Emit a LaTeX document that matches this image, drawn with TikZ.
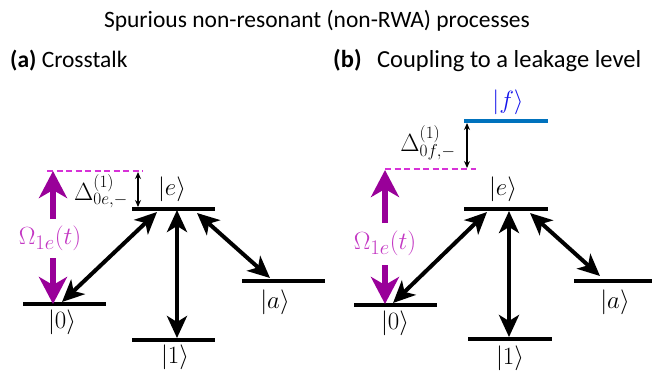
\documentclass[tikz,border=0pt]{standalone}
\usepackage{fontspec}
\setmainfont{Carlito}
\usetikzlibrary{arrows.meta}
\definecolor{drivec}{RGB}{153,0,153}
\definecolor{dashc}{RGB}{215,50,215}
\definecolor{labc}{RGB}{195,55,195}
\definecolor{flev}{RGB}{0,114,189}
\definecolor{flab}{RGB}{20,20,235}
\tikzset{
  lvl/.style={line width=3.7pt},
  trans/.style={line width=4pt, {Stealth[length=22pt,width=20pt,inset=6pt]}-{Stealth[length=22pt,width=20pt,inset=6pt]}},
  drive/.style={line width=5.5pt, color=drivec, -{Stealth[length=27pt,width=28pt,inset=8pt]}},
  detarr/.style={line width=1.2pt, {Stealth[length=7pt,width=6pt]}-{Stealth[length=7pt,width=6pt]}},
  virt/.style={dashc, line width=1.8pt, dash pattern=on 6pt off 3.5pt},
  ket/.style={font=\fontsize{30}{35}\selectfont, inner sep=0pt},
  dlab/.style={font=\fontsize{23}{27}\selectfont, inner sep=0pt},
  omlab/.style={font=\fontsize{30}{35}\selectfont, inner sep=0pt, text=labc},
  ttl/.style={font=\fontsize{23.5}{28}\selectfont, inner sep=0pt},
  sub/.style={font=\fontsize{23.5}{28}\selectfont, inner sep=0pt, anchor=west}
}
\begin{document}
\begin{tikzpicture}[x=1pt,y=-1pt]
\useasboundingbox (0,0) rectangle (652,381);
% titles
\node[ttl] (title) at (317,21) {Spurious non-resonant (non-RWA) processes};
\node[sub] (ta) at (10,61) {\textbf{(a)} Crosstalk};
\node[sub, font=\fontsize{24.5}{29}\selectfont] (tb) at (333,61) {\textbf{(b)}\hspace{10pt} Coupling to a leakage level};
% ===== panel a =====
\coordinate (a0L) at (23,304); \coordinate (a0R) at (106,304);
\coordinate (a1L) at (132,340); \coordinate (a1R) at (215,340);
\coordinate (aeL) at (132,209); \coordinate (aeR) at (215,209);
\coordinate (aaL) at (242,281); \coordinate (aaR) at (325,281);
\coordinate (avL) at (47,171); \coordinate (avR) at (143,171);
\draw[lvl] (a0L) -- (a0R);
\draw[lvl] (a1L) -- (a1R);
\draw[lvl] (aeL) -- (aeR);
\draw[lvl] (aaL) -- (aaR);
\draw[virt] (avL) -- (avR);
\coordinate (adT) at (138,172); \coordinate (adB) at (138,207);
\draw[detarr] (adT) -- (adB);
\node[dlab] (aDel) at (101,191) {$\Delta^{(1)}_{0e,-}$};
\node[ket] (ake) at (172,189) {$|e\rangle$};
\node[ket] (ak0) at (62,322) {$|0\rangle$};
\node[ket] (ak1) at (175,357) {$|1\rangle$};
\node[ket] (aka) at (275,302) {$|a\rangle$};
\coordinate (aupS) at (53,219); \coordinate (aupT) at (53,171);
\coordinate (adnS) at (53,258); \coordinate (adnT) at (53,304);
\draw[drive] (aupS) -- (aupT);
\draw[drive] (adnS) -- (adnT);
\node[omlab] (aOm) at (50,238) {$\Omega_{1e}(t)$};
\coordinate (at0) at (62,302); \coordinate (ate0) at (157,212);
\coordinate (at1) at (177,338); \coordinate (ate1) at (177,210);
\coordinate (ata) at (270,278); \coordinate (atea) at (197,213);
\draw[trans] (at0) -- (ate0);
\draw[trans] (at1) -- (ate1);
\draw[trans] (atea) -- (ata);
% ===== panel b =====
\coordinate (bfL) at (464,121); \coordinate (bfR) at (548,121);
\coordinate (beL) at (464,209); \coordinate (beR) at (548,209);
\coordinate (b0L) at (354,305); \coordinate (b0R) at (437,305);
\coordinate (b1L) at (468,339); \coordinate (b1R) at (552,339);
\coordinate (baL) at (574,281); \coordinate (baR) at (652,281);
\coordinate (bvL) at (385,169); \coordinate (bvR) at (476,169);
\draw[lvl, flev] (bfL) -- (bfR);
\draw[lvl] (beL) -- (beR);
\draw[lvl] (b0L) -- (b0R);
\draw[lvl] (b1L) -- (b1R);
\draw[lvl] (baL) -- (baR);
\draw[virt] (bvL) -- (bvR);
\coordinate (bdT) at (467,123); \coordinate (bdB) at (467,168);
\draw[detarr] (bdT) -- (bdB);
\node[dlab] (bDel) at (428,143) {$\Delta^{(1)}_{0f,-}$};
\node[ket, text=flab] (bkf) at (508,102) {$|f\rangle$};
\node[ket] (bke) at (503,189) {$|e\rangle$};
\node[ket] (bk0) at (395,323) {$|0\rangle$};
\node[ket] (bk1) at (510,358) {$|1\rangle$};
\node[ket] (bka) at (615,302) {$|a\rangle$};
\coordinate (bupS) at (385,223); \coordinate (bupT) at (385,170);
\coordinate (bdnS) at (385,265); \coordinate (bdnT) at (385,304);
\draw[drive] (bupS) -- (bupT);
\draw[drive] (bdnS) -- (bdnT);
\node[omlab] (bOm) at (385,243) {$\Omega_{1e}(t)$};
\coordinate (bt0) at (393,303); \coordinate (bte0) at (487,212);
\coordinate (bt1) at (509,337); \coordinate (bte1) at (509,211);
\coordinate (bta) at (600,276); \coordinate (btea) at (530,213);
\draw[trans] (bt0) -- (bte0);
\draw[trans] (bt1) -- (bte1);
\draw[trans] (btea) -- (bta);
\end{tikzpicture}
\end{document}
